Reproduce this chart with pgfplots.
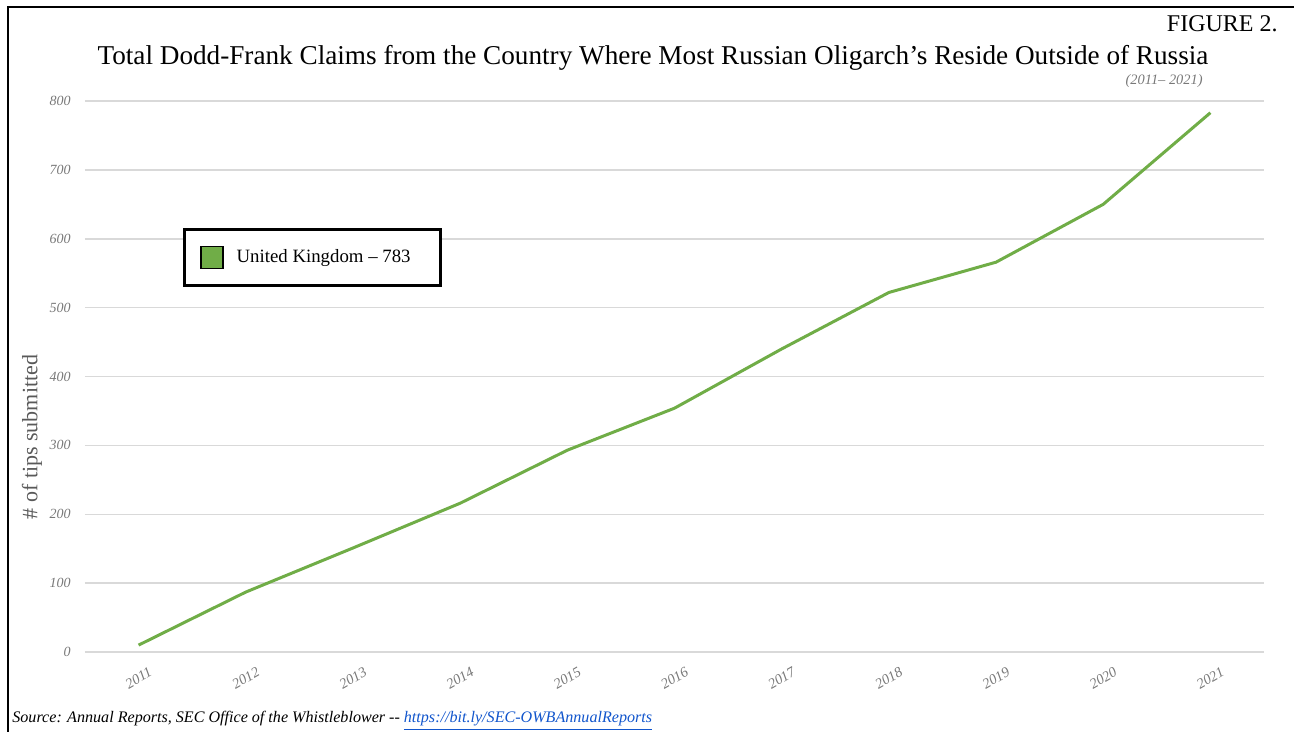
\documentclass[border=0pt]{standalone}
\usepackage{pgfplots}
\pgfplotsset{compat=1.18}
\usepackage{fontspec}
\setmainfont{Liberation Serif}
\definecolor{ukgreen}{RGB}{112,173,71}
\definecolor{gridgray}{RGB}{217,217,217}
\definecolor{ticklabelgray}{RGB}{120,120,120}
\definecolor{axislabelgray}{RGB}{89,89,89}
\definecolor{linkblue}{RGB}{17,85,204}

\begin{document}
\begin{tikzpicture}
\useasboundingbox (-42.5pt,-40pt) rectangle (604.5pt,326pt);
\begin{axis}[
  at={(0pt,0pt)}, anchor=south west,
  scale only axis, width=589.5pt, height=275.5pt,
  xmin=2010.5, xmax=2021.5, ymin=0, ymax=800,
  clip=false,
  axis line style={draw=none},
  tick style={draw=none},
  ymajorgrids, grid style={gridgray, line width=0.75pt},
  ytick={0,100,...,800},
  xtick={2011,...,2021},
  xticklabels={2011,2012,2013,2014,2015,2016,2017,2018,2019,2020,2021},
  /pgf/number format/assume math mode=true,
  yticklabel style={font=\fontsize{7}{9}\selectfont\itshape, text=ticklabelgray, inner sep=0pt},
  yticklabel shift=7pt,
  xticklabel style={yshift=-13pt, rotate=30, anchor=center, font=\fontsize{7.2}{9}\selectfont\itshape, text=ticklabelgray},
  legend style={at={(0.0831,0.7695)}, anchor=north west, draw=black, line width=1.5pt, fill=white,
    inner xsep=8pt, inner ysep=8pt, font=\fontsize{9.4}{11}\selectfont},
  legend image code/.code={\draw[fill=ukgreen, draw=black, line width=0.7pt] (0pt,-5.5pt) rectangle (11pt,5.5pt);
    \path (15pt,0pt);},
]
\addplot[ukgreen, line width=1.5pt, mark=none] coordinates {
  (2011,10) (2012,87) (2013,151) (2014,216) (2015,293) (2016,354)
  (2017,440) (2018,522) (2019,566) (2020,650) (2021,783)
};
\addlegendentry{United Kingdom -- 783\hspace*{5pt}}
\end{axis}

% titles and notes around the plot area
\node[anchor=base, inner sep=0pt, font=\fontsize{13.6}{16}\selectfont] at (284pt,293.5pt)
  {Total Dodd-Frank Claims from the Country Where Most Russian Oligarch’s Reside Outside of Russia};
\node[anchor=base east, inner sep=0pt, font=\fontsize{12}{14}\selectfont] at (596.5pt,310pt) {FIGURE 2.};
\node[anchor=east, inner sep=0pt, font=\fontsize{7.2}{9}\selectfont\itshape, text=ticklabelgray] at (559pt,285.5pt) {(2011– 2021)};
\node[rotate=90, font=\fontsize{11}{13}\selectfont, text=axislabelgray] at (-26.5pt,107.5pt) {\# of tips submitted};
\node[anchor=west, inner sep=0pt, font=\fontsize{8.05}{10}\selectfont\itshape] at (-36.5pt,-34.5pt)
  {Source: Annual Reports, SEC Office of the Whistleblower -{}- \textcolor{linkblue}{\underline{https://bit.ly/SEC-OWBAnnualReports}}};

% page frame
\draw[black, line width=1.4pt] (-38.5pt,-40pt) -- (-38.5pt,322.5pt) -- (604.5pt,322.5pt);
\end{tikzpicture}
\end{document}
